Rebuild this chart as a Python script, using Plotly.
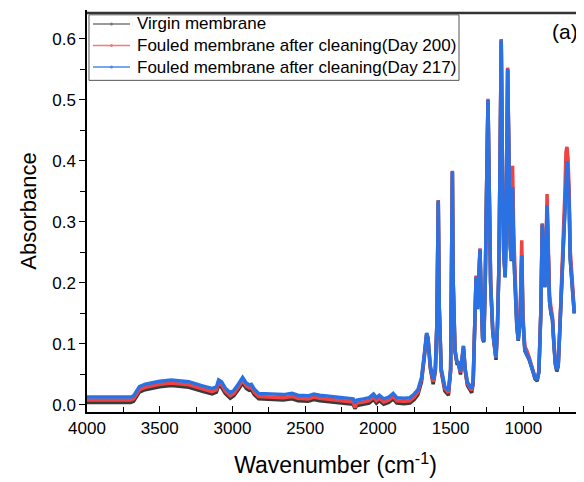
import plotly.graph_objects as go

# wavenumber (cm-1), descending
wavenumber = [
    4000, 3900, 3800, 3700, 3680, 3660, 3640, 3600, 3500, 3420, 3300, 3200,
    3140, 3110, 3095, 3075, 3050, 3015, 2990, 2960, 2930, 2905, 2885, 2870,
    2850, 2820, 2750, 2650, 2590, 2550, 2480, 2440, 2400, 2300, 2200, 2170,
    2158, 2145, 2100, 2060, 2030, 2010, 1990, 1960, 1925, 1895, 1870, 1820,
    1780, 1750, 1725, 1700, 1680, 1665, 1655, 1640, 1620, 1605, 1595, 1585,
    1578, 1565, 1540, 1515, 1500, 1492, 1488, 1482, 1470, 1455, 1447, 1432,
    1420, 1412, 1400, 1385, 1365, 1355, 1345, 1335, 1325, 1315, 1306, 1298,
    1290, 1280, 1272, 1262, 1250, 1243, 1236, 1225, 1210, 1195, 1188, 1178,
    1168, 1158, 1152, 1145, 1135, 1125, 1117, 1108, 1100, 1090, 1082, 1074,
    1066, 1055, 1045, 1035, 1022, 1011, 1003, 990, 977, 960, 940, 920,
    905, 893, 880, 870, 862, 852, 843, 837, 830, 820, 810, 800,
    790, 780, 770, 760, 750, 742, 735, 725, 715, 707, 700, 693,
    685, 678, 670, 662, 655, 650,
]

virgin = [
    0.004, 0.004, 0.004, 0.004, 0.006, 0.015, 0.021, 0.025, 0.030, 0.032, 0.029, 0.022,
    0.018, 0.021, 0.032, 0.029, 0.019, 0.011, 0.015, 0.025, 0.036, 0.027, 0.024, 0.025,
    0.017, 0.010, 0.009, 0.008, 0.010, 0.007, 0.006, 0.009, 0.007, 0.005, 0.003, 0.001,
    -0.006, -0.001, 0.001, 0.003, 0.009, 0.003, 0.007, 0.001, 0.004, 0.010, 0.003, 0.002,
    0.003, 0.009, 0.017, 0.038, 0.080, 0.115, 0.107, 0.060, 0.034, 0.055, 0.128, 0.334,
    0.158, 0.055, 0.023, 0.016, 0.055, 0.248, 0.382, 0.198, 0.087, 0.066, 0.068, 0.050,
    0.077, 0.094, 0.056, 0.032, 0.024, 0.020, 0.035, 0.118, 0.209, 0.157, 0.199, 0.254,
    0.178, 0.108, 0.103, 0.199, 0.399, 0.499, 0.379, 0.199, 0.118, 0.082, 0.074, 0.128,
    0.224, 0.449, 0.597, 0.419, 0.249, 0.209, 0.299, 0.550, 0.419, 0.259, 0.236, 0.357,
    0.250, 0.179, 0.129, 0.105, 0.139, 0.246, 0.139, 0.089, 0.083, 0.074, 0.059, 0.043,
    0.039, 0.054, 0.150, 0.296, 0.250, 0.193, 0.260, 0.328, 0.260, 0.170, 0.150, 0.140,
    0.099, 0.066, 0.055, 0.064, 0.119, 0.169, 0.193, 0.260, 0.330, 0.392, 0.402, 0.382,
    0.331, 0.241, 0.215, 0.205, 0.170, 0.150,
]

day200 = [
    0.008, 0.008, 0.008, 0.008, 0.010, 0.019, 0.025, 0.029, 0.034, 0.036, 0.033, 0.026,
    0.022, 0.025, 0.036, 0.033, 0.023, 0.015, 0.019, 0.029, 0.040, 0.031, 0.028, 0.029,
    0.021, 0.014, 0.013, 0.012, 0.014, 0.011, 0.010, 0.013, 0.011, 0.009, 0.007, 0.005,
    -0.004, 0.003, 0.005, 0.007, 0.013, 0.007, 0.011, 0.005, 0.008, 0.014, 0.007, 0.006,
    0.007, 0.013, 0.021, 0.042, 0.083, 0.117, 0.109, 0.063, 0.038, 0.058, 0.130, 0.336,
    0.160, 0.058, 0.027, 0.020, 0.058, 0.250, 0.384, 0.200, 0.090, 0.070, 0.072, 0.053,
    0.079, 0.096, 0.058, 0.035, 0.027, 0.024, 0.038, 0.120, 0.212, 0.160, 0.202, 0.257,
    0.181, 0.110, 0.105, 0.201, 0.401, 0.502, 0.381, 0.201, 0.121, 0.085, 0.077, 0.131,
    0.227, 0.452, 0.600, 0.422, 0.252, 0.212, 0.302, 0.553, 0.424, 0.268, 0.250, 0.392,
    0.280, 0.195, 0.138, 0.110, 0.150, 0.270, 0.150, 0.096, 0.090, 0.078, 0.062, 0.046,
    0.042, 0.056, 0.152, 0.298, 0.252, 0.196, 0.270, 0.346, 0.275, 0.180, 0.160, 0.146,
    0.104, 0.070, 0.059, 0.066, 0.122, 0.172, 0.196, 0.268, 0.345, 0.415, 0.423, 0.405,
    0.350, 0.255, 0.225, 0.215, 0.178, 0.155,
]

day217 = [
    0.013, 0.013, 0.013, 0.013, 0.015, 0.024, 0.030, 0.034, 0.039, 0.041, 0.038, 0.031,
    0.027, 0.030, 0.041, 0.038, 0.028, 0.020, 0.024, 0.034, 0.045, 0.036, 0.033, 0.034,
    0.026, 0.019, 0.018, 0.017, 0.019, 0.016, 0.015, 0.018, 0.016, 0.014, 0.012, 0.010,
    0.003, 0.008, 0.010, 0.012, 0.018, 0.012, 0.016, 0.010, 0.013, 0.019, 0.012, 0.011,
    0.012, 0.018, 0.025, 0.045, 0.085, 0.118, 0.110, 0.065, 0.042, 0.060, 0.130, 0.335,
    0.160, 0.060, 0.030, 0.024, 0.060, 0.250, 0.383, 0.200, 0.090, 0.068, 0.070, 0.055,
    0.080, 0.097, 0.060, 0.038, 0.030, 0.027, 0.040, 0.120, 0.210, 0.158, 0.200, 0.255,
    0.180, 0.110, 0.105, 0.200, 0.400, 0.500, 0.380, 0.200, 0.120, 0.085, 0.078, 0.130,
    0.225, 0.450, 0.598, 0.420, 0.250, 0.210, 0.300, 0.551, 0.420, 0.260, 0.237, 0.357,
    0.250, 0.180, 0.130, 0.106, 0.140, 0.245, 0.140, 0.090, 0.084, 0.075, 0.060, 0.045,
    0.041, 0.055, 0.150, 0.296, 0.250, 0.193, 0.260, 0.327, 0.260, 0.170, 0.150, 0.140,
    0.100, 0.068, 0.057, 0.065, 0.120, 0.170, 0.193, 0.260, 0.330, 0.390, 0.400, 0.380,
    0.330, 0.240, 0.215, 0.205, 0.170, 0.150,
]

names = ['Virgin membrane',
         'Fouled membrane after cleaning(Day 200)',
         'Fouled membrane after cleaning(Day 217)']
colors = ['#3a3a3a', '#f04242', '#2a72e4']
key_colors = ['#7a7a7a', '#f27a7a', '#4a88ea']
series = [virgin, day200, day217]

fig = go.Figure()

# thick spectra (the original is drawn with dense markers)
for name, col, ys in zip(names, colors, series):
    fig.add_trace(go.Scatter(x=wavenumber, y=ys, mode='lines', name=name,
                             line=dict(color=col, width=3.5), showlegend=False))

font = 'Liberation Sans, Arial, sans-serif'

# top frame line, a few pixels inside the plot top
shapes = [
    dict(type='line', xref='paper', yref='paper', ysizemode='pixel', yanchor=1,
         x0=0, x1=1, y0=-3, y1=-3, line=dict(color='#333333', width=2.5)),
    dict(type='rect', xref='paper', yref='paper', x0=0.004, x1=0.7485, y0=0.8250, y1=0.9880,
         line=dict(color='#555555', width=1), fillcolor='white', layer='above'),
]
annotations = []
row_y = [0.9652, 0.9117, 0.8582]
for name, col, y in zip(names, key_colors, row_y):
    shapes.append(dict(type='line', xref='paper', yref='paper', x0=0.0121, x1=0.0865,
                       y0=y, y1=y, line=dict(color=col, width=1.5), layer='above'))
    shapes.append(dict(type='circle', xref='paper', yref='paper', xsizemode='pixel',
                       ysizemode='pixel', xanchor=0.0493, yanchor=y, x0=-1.5, x1=1.5,
                       y0=-1.5, y1=1.5, fillcolor=col, line=dict(width=0), layer='above'))
    annotations.append(dict(text=name, x=0.0966, y=y, xref='paper', yref='paper',
                            xanchor='left', yanchor='middle', showarrow=False,
                            font=dict(size=17)))
annotations.append(dict(text='(a)', x=0.962, y=0.947, xref='paper', yref='paper',
                        showarrow=False, xanchor='center', yanchor='middle',
                        font=dict(size=21)))

# page body has an 8px margin, so the figure is 8px smaller than the window
fig.update_layout(
    width=576, height=474,
    margin=dict(l=79, r=0, t=2, b=70, autoexpand=False),
    plot_bgcolor='white', paper_bgcolor='white',
    font=dict(family=font, size=17, color='black'),
    showlegend=False,
    shapes=shapes,
    annotations=annotations,
)

fig.update_xaxes(
    range=[4000, 583], autorange=False,
    tickvals=[4000, 3500, 3000, 2500, 2000, 1500, 1000],
    ticks='inside', ticklen=6, tickwidth=1.3, tickcolor='black',
    minor=dict(dtick=250, tick0=0, ticks='inside', ticklen=5, tickcolor='black', tickwidth=1.3),
    showline=True, linecolor='black', linewidth=1.5,
    showgrid=False, zeroline=False,
    title=dict(text='Wavenumber (cm<sup>-1</sup>)', font=dict(size=23), standoff=20),
)

fig.update_yaxes(
    range=[-0.0115, 0.6475], autorange=False,
    tickvals=[0.0, 0.1, 0.2, 0.3, 0.4, 0.5, 0.6], tickformat='.1f',
    ticks='outside', ticklen=6, tickwidth=1.3, tickcolor='black',
    minor=dict(dtick=0.05, tick0=0, ticks='outside', ticklen=5, tickcolor='black', tickwidth=1.3),
    showline=True, linecolor='black', linewidth=1.5,
    showgrid=False, zeroline=False,
    title=dict(text='Absorbance', font=dict(size=22), standoff=10),
)

fig.write_html('out.html')
